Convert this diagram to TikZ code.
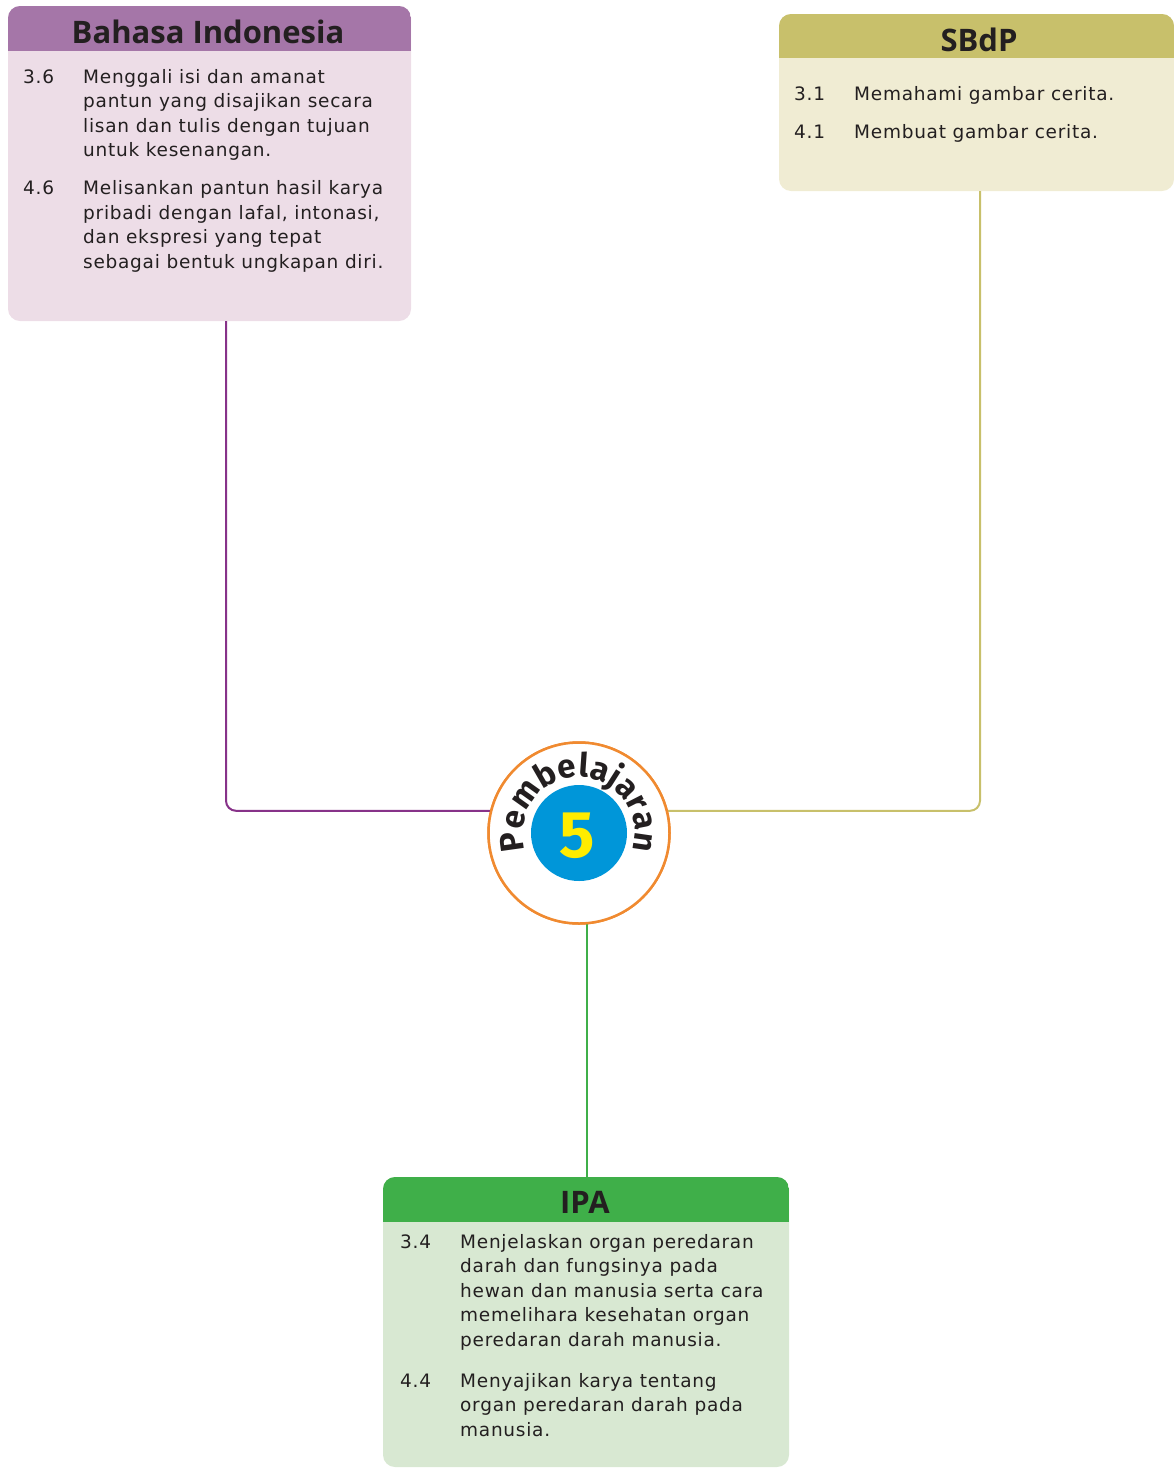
\documentclass[tikz,border=0pt]{standalone}
\usepackage{fontspec}
\setmainfont{Open Sans}
\newfontfamily\bodyfont[LetterSpace=4]{DejaVu Sans}
\newfontfamily\numfont{Fira Sans}
\usetikzlibrary{decorations.text}
\definecolor{txt}{HTML}{231F20}
\definecolor{bihead}{HTML}{A576A8}
\definecolor{bibody}{HTML}{EDDDE7}
\definecolor{biline}{HTML}{873289}
\definecolor{sbhead}{HTML}{C8C06B}
\definecolor{sbbody}{HTML}{F0ECD3}
\definecolor{ipahead}{HTML}{3FAF49}
\definecolor{ipabody}{HTML}{D8E8D2}
\definecolor{ringc}{HTML}{F08A30}
\definecolor{bluec}{HTML}{0096D9}
\definecolor{yellowc}{HTML}{FFEC00}
\tikzset{
  boxbody/.style={rectangle, rounded corners=12pt, inner sep=0pt},
  boxtitle/.style={anchor=base, inner sep=0pt, text=txt, font=\fontsize{31}{36}\selectfont\bfseries},
  items/.style={anchor=base west, inner sep=0pt, text=txt, font=\bodyfont\fontsize{18.5}{24.5}\selectfont},
  conn/.style={line width=2pt, rounded corners=10pt},
}
\begin{document}
\begin{tikzpicture}[x=1pt,y=-1pt]
\useasboundingbox (0,0) rectangle (1174,1468);

% ---------- Bahasa Indonesia box ----------
\node[boxbody, fill=bibody, minimum width=403pt, minimum height=315pt] (bi) at (209.5,163.5) {};
\begin{scope}
  \clip[rounded corners=12pt] (8,6) rectangle (411,321);
  \fill[bihead] (8,6) rectangle (411,51);
\end{scope}
\node[boxtitle] (bititle) at (208,43) {Bahasa Indonesia};
\node[items] (biitems) at (23,83) {\begin{tabular}[t]{@{}p{60pt}@{}l@{}}
3.6 & Menggali isi dan amanat\\
    & pantun yang disajikan secara\\
    & lisan dan tulis dengan tujuan\\
    & untuk kesenangan.\\[13.5pt]
4.6 & Melisankan pantun hasil karya\\
    & pribadi dengan lafal, intonasi,\\
    & dan ekspresi yang tepat\\
    & sebagai bentuk ungkapan diri.
\end{tabular}};

% ---------- SBdP box ----------
\node[boxbody, fill=sbbody, minimum width=395pt, minimum height=177pt] (sb) at (976.5,102.5) {};
\begin{scope}
  \clip[rounded corners=12pt] (779,14) rectangle (1174,191);
  \fill[sbhead] (779,14) rectangle (1174,58);
\end{scope}
\node[boxtitle] (sbtitle) at (979,51) {SBdP};
\node[items] (sbitems) at (794,100) {\begin{tabular}[t]{@{}p{60pt}@{}l@{}}
3.1 & Memahami gambar cerita.\\[13.5pt]
4.1 & Membuat gambar cerita.
\end{tabular}};

% ---------- IPA box ----------
\node[boxbody, fill=ipabody, minimum width=406pt, minimum height=290pt] (ipa) at (586,1322) {};
\begin{scope}
  \clip[rounded corners=12pt] (383,1177) rectangle (789,1467);
  \fill[ipahead] (383,1177) rectangle (789,1222);
\end{scope}
\node[boxtitle] (ipatitle) at (585,1213) {IPA};
\node[items] (ipaitems) at (400,1248) {\begin{tabular}[t]{@{}p{60pt}@{}l@{}}
3.4 & Menjelaskan organ peredaran\\
    & darah dan fungsinya pada\\
    & hewan dan manusia serta cara\\
    & memelihara kesehatan organ\\
    & peredaran darah manusia.\\[16.5pt]
4.4 & Menyajikan karya tentang\\
    & organ peredaran darah pada\\
    & manusia.
\end{tabular}};

% ---------- centre circle ----------
\node[circle, draw=ringc, line width=2.5pt, fill=white, minimum size=181pt, inner sep=0pt] (circ) at (579,833) {};

% connectors
\draw[conn, biline] ([xshift=16.5pt]bi.south) |- (circ.166);
\draw[conn, sbhead] ([xshift=3.5pt]sb.south) |- (circ.14);
\draw[conn, ipahead] (circ.-85.6) -- (circ.-85.6 |- ipa.north);

\node[circle, draw=ringc, line width=2.5pt, fill=white, minimum size=181pt, inner sep=0pt] (circ2) at (circ) {};
\node[circle, fill=bluec, minimum size=96pt, inner sep=0pt] (blue) at (579,833) {};
\node[text=yellowc, inner sep=0pt, font=\numfont\fontsize{66}{66}\selectfont\bfseries] (five) at (577,836) {5};
\path[decorate, decoration={text along path, text align=fit to path,
   text={|\numfont\fontsize{33}{33}\selectfont\bfseries\color{txt}|Pembelajaran}}]
   (circ.center) ++(162:56) arc[start angle=162, end angle=378, radius=56];
\end{tikzpicture}
\end{document}
